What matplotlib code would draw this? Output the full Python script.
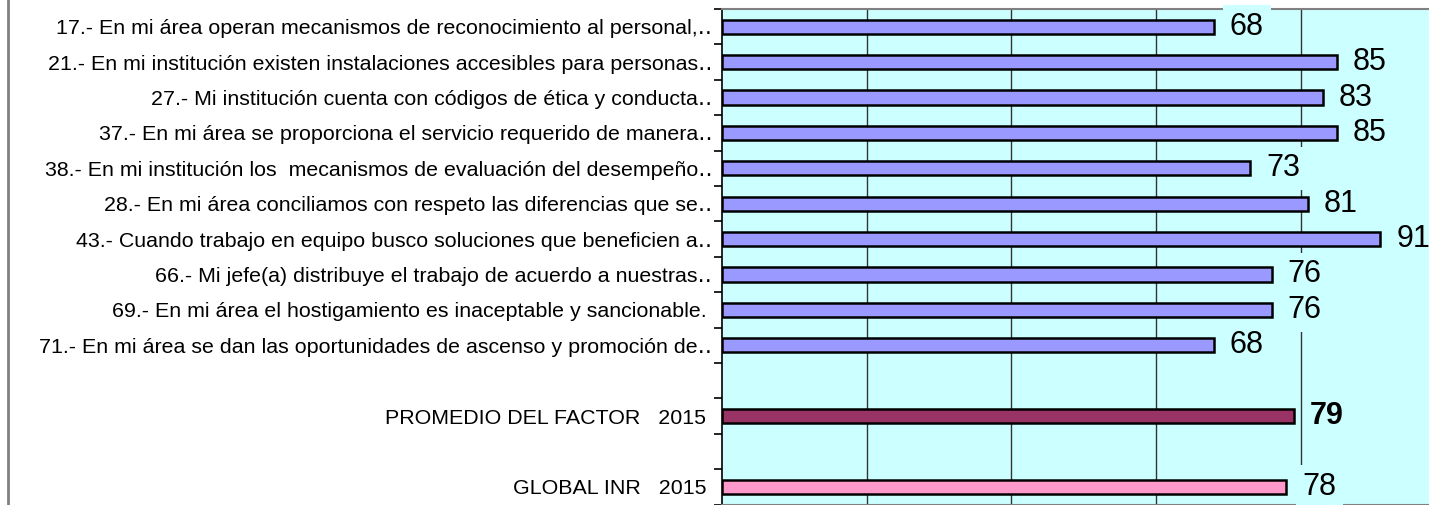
import matplotlib.pyplot as plt
from matplotlib.lines import Line2D
import numpy as np

# reactivos del factor (texto recortado como en el reporte)
preguntas = [
    '17.- En mi área operan mecanismos de reconocimiento al personal,‥',
    '21.- En mi institución existen instalaciones accesibles para personas‥',
    '27.- Mi institución cuenta con códigos de ética y conducta‥',
    '37.- En mi área se proporciona el servicio requerido de manera‥',
    '38.- En mi institución los  mecanismos de evaluación del desempeño‥',
    '28.- En mi área conciliamos con respeto las diferencias que se‥',
    '43.- Cuando trabajo en equipo busco soluciones que beneficien a‥',
    '66.- Mi jefe(a) distribuye el trabajo de acuerdo a nuestras‥',
    '69.- En mi área el hostigamiento es inaceptable y sancionable. ',
    '71.- En mi área se dan las oportunidades de ascenso y promoción de‥',
]
puntajes = [68, 85, 83, 85, 73, 81, 91, 76, 76, 68]

promedio_label = 'PROMEDIO DEL FACTOR   2015 '
promedio = 79
global_label = 'GLOBAL INR   2015 '
global_inr = 78

# filas: 10 reactivos, hueco, promedio, hueco, global
etiquetas = preguntas + ['', promedio_label, '', global_label]
valores = puntajes + [None, promedio, None, global_inr]
colores = ['#9999FF'] * len(puntajes) + [None, '#993366', None, '#FF99CC']

plt.rcParams['font.family'] = ['Liberation Sans', 'DejaVu Sans']

fig = plt.figure(figsize=(14.29, 5.05), dpi=100)
W, H = 1429, 505
x0, y_top, y_bot = 722, 9, 504.6
px_por_unidad = 7.235
ax = fig.add_axes([x0 / W, (H - y_bot) / H, 100 * px_por_unidad / W, (y_bot - y_top) / H])
ax.set_facecolor('#CCFFFF')

n = len(etiquetas)
ys = np.arange(n)
for y, v, c in zip(ys, valores, colores):
    if v is None:
        continue
    ax.barh(y, v, height=0.4, color=c, edgecolor='black', linewidth=1.8, zorder=3)
    ax.text(v + 2.2, y, str(v), fontsize=22, va='center', ha='left',
            fontweight='bold' if c == '#993366' else 'normal',
            bbox=dict(boxstyle='square,pad=0.22', fc='#CCFFFF', ec='none'), zorder=4)

ax.set_xlim(0, 100)
ax.set_ylim(n - 0.5, -0.5)
ax.set_xticks([20, 40, 60, 80])
ax.xaxis.grid(True, color='#333333', linewidth=1)
ax.set_axisbelow(True)
ax.tick_params(axis='x', length=0, labelbottom=False)

ax.set_yticks(ys)
ax.set_yticklabels(etiquetas, fontsize=15.4)
ax.set_yticks(np.arange(n + 1) - 0.5, minor=True)
ax.tick_params(axis='y', which='major', length=0, pad=7)
ax.tick_params(axis='y', which='minor', length=6, width=1.2, color='black')

ax.spines['left'].set_color('black')
ax.spines['left'].set_linewidth(1.2)
ax.spines['top'].set_color('#808080')
ax.spines['top'].set_linewidth(1.5)
ax.spines['bottom'].set_color('#808080')
ax.spines['bottom'].set_linewidth(1.5)
ax.spines['right'].set_visible(False)

# borde exterior del gráfico
fig.add_artist(Line2D([7.5 / W, 7.5 / W], [0, 1], color='#808080', linewidth=2))

fig.savefig('out.png', dpi=100)
